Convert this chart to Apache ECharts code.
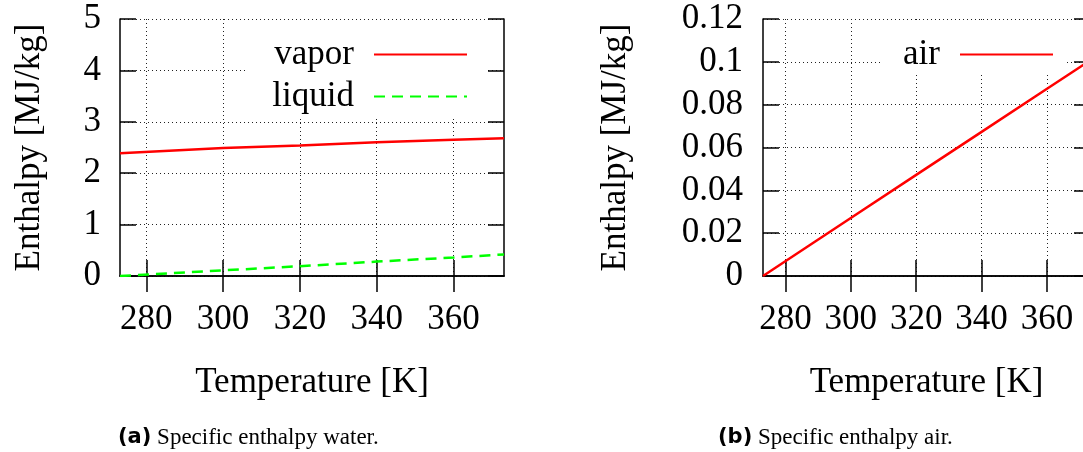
<!DOCTYPE html>
<html>
<head>
<meta charset="utf-8">
<script src="https://cdn.jsdelivr.net/npm/echarts@6/dist/echarts.min.js"></script>
<style>
  html, body { margin: 0; padding: 0; background: #fff; overflow: hidden; }
  #chart { width: 1100px; height: 452px; }
</style>
</head>
<body>
<div id="chart"></div>
<script>
// values
const tempWater = [273.15, 300, 320, 340, 360, 373.15];
const vapor = [2.39, 2.49, 2.54, 2.60, 2.65, 2.68];
const liquid = [0, 0.11, 0.19, 0.28, 0.36, 0.42];

const tempAir = [273.15, 300, 320, 340, 360, 373.15];
const air = [0, 0.0271, 0.0472, 0.0673, 0.0874, 0.1006];

const tempTicks = [280, 300, 320, 340, 360];

const FONT = 'Liberation Serif';
const pairs = (xs, ys) => xs.map((x, i) => [x, ys[i]]);

const chart = echarts.init(document.getElementById('chart'));

const gridLine = { show: true, lineStyle: { color: '#222', width: 1, type: [1, 3] } };
const axisLine = { show: true, lineStyle: { color: '#000', width: 1.5 } };
const tick = { inside: true, length: 16, lineStyle: { color: '#000', width: 1.5 } };

function xAxes(gridIndex) {
  return [
    {
      type: 'value', gridIndex, position: 'bottom', min: 273.15, max: 373.15,
      name: 'Temperature [K]', nameLocation: 'middle', nameGap: 89,
      nameTextStyle: { fontFamily: FONT, fontSize: 35, color: '#000' },
      axisLine, axisTick: { ...tick, customValues: tempTicks },
      axisLabel: { customValues: tempTicks, margin: 26, fontFamily: FONT, fontSize: 35, color: '#000' },
      splitLine: gridLine
    },
    {
      type: 'value', gridIndex, position: 'top', min: 273.15, max: 373.15,
      axisLine, axisTick: { ...tick, customValues: tempTicks },
      axisLabel: { show: false }, splitLine: { show: false }
    }
  ];
}

function yAxes(gridIndex, max, interval, gap, margin) {
  return [
    {
      type: 'value', gridIndex, position: 'left', min: 0, max, interval,
      name: 'Enthalpy [MJ/kg]', nameLocation: 'middle', nameGap: gap,
      nameTextStyle: { fontFamily: FONT, fontSize: 35, color: '#000' },
      axisLine, axisTick: tick,
      axisLabel: { margin, fontFamily: FONT, fontSize: 35, color: '#000' },
      splitLine: gridLine
    },
    {
      type: 'value', gridIndex, position: 'right', min: 0, max, interval,
      axisLine, axisTick: tick, axisLabel: { show: false }, splitLine: { show: false }
    }
  ];
}

const legendText = { fontFamily: FONT, fontSize: 35, color: '#000', lineHeight: 35, padding: [0, 15, 0, 0] };
const noSymbol = { opacity: 0, color: 'transparent', borderWidth: 0 };

const option = {
  animation: false,
  grid: [
    { left: 120, top: 19, width: 384, height: 257 },
    { left: 763, top: 19, width: 327, height: 257 }
  ],
  xAxis: [...xAxes(0), ...xAxes(1)],
  yAxis: [...yAxes(0, 5, 1, 73, 19), ...yAxes(1, 0.12, 0.02, 130, 20)],
  legend: [
    {
      data: ['vapor', 'liquid'], orient: 'vertical', align: 'right',
      right: 1100 - 485, top: 21, padding: [16, 17, 4, 27], itemGap: 7,
      itemWidth: 93, itemHeight: 14, backgroundColor: '#fff',
      itemStyle: noSymbol, textStyle: legendText
    },
    {
      data: ['air'], orient: 'vertical', align: 'right',
      right: 1100 - 1066, top: 21, padding: [16, 12, 0, 22],
      itemWidth: 93, itemHeight: 14, backgroundColor: '#fff',
      itemStyle: noSymbol, textStyle: legendText
    }
  ],
  series: [
    {
      name: 'vapor', type: 'line', xAxisIndex: 0, yAxisIndex: 0, symbol: 'none',
      lineStyle: { color: '#ff0000', width: 2.5 }, itemStyle: { color: '#ff0000' },
      data: pairs(tempWater, vapor)
    },
    {
      name: 'liquid', type: 'line', xAxisIndex: 0, yAxisIndex: 0, symbol: 'none',
      lineStyle: { color: '#00ff00', width: 2.5, type: [11, 7] }, itemStyle: { color: '#00ff00' },
      data: pairs(tempWater, liquid)
    },
    {
      name: 'air', type: 'line', xAxisIndex: 2, yAxisIndex: 2, symbol: 'none',
      lineStyle: { color: '#ff0000', width: 2.5 }, itemStyle: { color: '#ff0000' },
      data: pairs(tempAir, air)
    }
  ],
  graphic: [
    {
      type: 'text', left: 118, top: 426,
      style: {
        text: '{b|(a)} Specific enthalpy water.',
        rich: {
          b: { fontFamily: 'DejaVu Sans', fontWeight: 'bold', fontSize: 21, fill: '#000' }
        },
        fontFamily: FONT, fontSize: 23, fill: '#000'
      }
    },
    {
      type: 'text', left: 718, top: 426,
      style: {
        text: '{b|(b)} Specific enthalpy air.',
        rich: {
          b: { fontFamily: 'DejaVu Sans', fontWeight: 'bold', fontSize: 21, fill: '#000' }
        },
        fontFamily: FONT, fontSize: 23, fill: '#000'
      }
    }
  ]
};

chart.setOption(option);
</script>
</body>
</html>
